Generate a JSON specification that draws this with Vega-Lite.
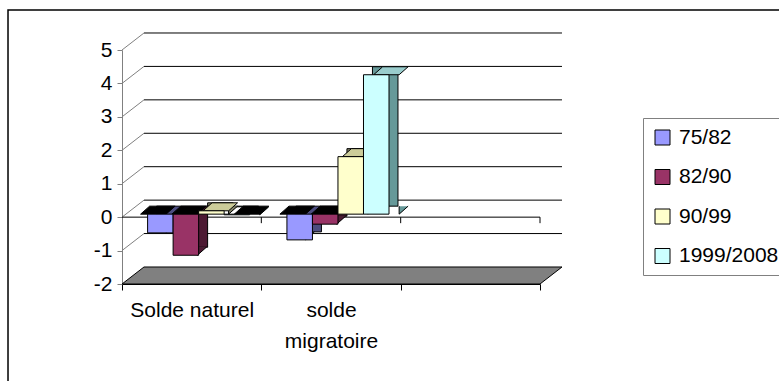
{
  "$schema": "https://vega.github.io/schema/vega-lite/v6.json",
  "width": 418,
  "height": 234,
  "autosize": {"type": "none"},
  "padding": {"left": 122, "top": 50, "right": 239, "bottom": 97},
  "background": "white",
  "config": {
    "view": {"stroke": null},
    "font": "Liberation Sans",
    "axisX": {"domainColor": "black", "tickColor": "black", "tickBand": "extent", "tickSize": 6, "labelFontSize": 21, "labelPadding": 9, "labelAngle": 0, "labelColor": "black", "labelLineHeight": 31, "grid": false, "labelExpr": "datum.value == 'solde migratoire' ? ['solde', 'migratoire'] : datum.label"},
    "axisY": {"domainColor": "#808080", "tickColor": "#808080", "tickSize": 5, "labelPadding": 5, "labelFontSize": 21, "labelColor": "black", "grid": false, "values": [-2, -1, 0, 1, 2, 3, 4, 5], "labelExpr": "'' + datum.value"}
  },
  "datasets": {
    "bars": [
      {"cat": "Solde naturel", "series": "75/82", "value": -0.56},
      {"cat": "Solde naturel", "series": "82/90", "value": -1.23},
      {"cat": "Solde naturel", "series": "90/99", "value": 0.1},
      {"cat": "Solde naturel", "series": "1999/2008", "value": -0.02},
      {"cat": "solde migratoire", "series": "75/82", "value": -0.77},
      {"cat": "solde migratoire", "series": "82/90", "value": -0.3},
      {"cat": "solde migratoire", "series": "90/99", "value": 1.72},
      {"cat": "solde migratoire", "series": "1999/2008", "value": 4.17}
    ],
    "grid": [{"v": -1}, {"v": 0}, {"v": 1}, {"v": 2}, {"v": 3}, {"v": 4}, {"v": 5}],
    "one": [{"k": 1}]
  },
  "resolve": {"scale": {"fill": "independent", "xOffset": "independent"}},
  "layer": [
    {
      "data": {"name": "one"},
      "mark": {"type": "point", "shape": "M -0.2727 0.85 L -0.2727 -0.0957 L 1.6 -0.0957", "size": 698896, "stroke": "black", "strokeWidth": 1.5, "filled": false, "opacity": 1},
      "encoding": {
        "x": {"datum": "Solde naturel", "bandPosition": 0, "type": "nominal", "scale": {"domain": ["Solde naturel", "solde migratoire", " "], "paddingInner": 0, "paddingOuter": 0}, "title": null},
        "y": {"datum": 5, "type": "quantitative", "scale": {"domain": [-2, 5], "nice": false, "zero": false}, "title": null}
      }
    },
    {
      "data": {"name": "grid"},
      "mark": {"type": "point", "shape": "M 0.0526 -0.0407 L 1.0526 -0.0407", "size": 698896, "stroke": "black", "strokeWidth": 1, "filled": false, "opacity": 1},
      "encoding": {
        "x": {"datum": "Solde naturel", "bandPosition": 0, "type": "nominal", "title": null},
        "y": {"field": "v", "type": "quantitative", "title": null}
      }
    },
    {
      "data": {"name": "grid"},
      "mark": {"type": "point", "shape": "M 0 0 L 0.0526 -0.0407", "size": 698896, "stroke": "#808080", "strokeWidth": 1, "filled": false, "opacity": 1},
      "encoding": {
        "x": {"datum": "Solde naturel", "bandPosition": 0, "type": "nominal", "title": null},
        "y": {"field": "v", "type": "quantitative", "title": null}
      }
    },
    {
      "data": {"name": "one"},
      "mark": {"type": "point", "shape": "M 0 0 L 1 0 L 1.0526 -0.0407 L 0.0526 -0.0407 Z", "size": 698896, "stroke": "black", "strokeWidth": 1, "filled": true, "fill": "#808080", "opacity": 1},
      "encoding": {
        "x": {"datum": "Solde naturel", "bandPosition": 0, "type": "nominal", "title": null},
        "y": {"datum": -2, "type": "quantitative", "title": null}
      }
    },
    {
      "data": {"name": "one"},
      "mark": {"type": "point", "shape": "M 0 0 L 1 0 M 0.3333 0 L 0.3333 0.0144 M 0.6667 0 L 0.6667 0.0144 M 1 0 L 1 0.0144", "size": 698896, "stroke": "black", "strokeWidth": 1, "filled": false, "opacity": 1},
      "encoding": {
        "x": {"datum": "Solde naturel", "bandPosition": 0, "type": "nominal", "title": null},
        "y": {"datum": 0, "type": "quantitative", "title": null}
      }
    },
    {
      "data": {"name": "bars"},
      "mark": {"type": "bar", "yOffset": -11, "y2Offset": -11, "stroke": "black", "strokeWidth": 1},
      "encoding": {
        "x": {"field": "cat", "type": "nominal", "title": null},
        "xOffset": {"field": "series", "type": "nominal", "sort": null, "scale": {"domain": ["75/82", "82/90", "90/99", "1999/2008"], "paddingInner": 0, "paddingOuter": 0.73, "align": 0.928}},
        "y": {"field": "value", "type": "quantitative", "title": null},
        "fill": {"field": "series", "type": "nominal", "legend": null, "scale": {"domain": ["75/82", "82/90", "90/99", "1999/2008"], "range": ["#4D4D80", "#4D1A33", "#808066", "#669999"]}}
      }
    },
    {
      "data": {"name": "bars"},
      "transform": [{"filter": "datum.value < 0"}],
      "mark": {"type": "point", "shape": "M 1 -0.627 L 1 0 L 1.706 -0.627", "size": 650, "yOffset": -3, "stroke": "black", "strokeWidth": 1, "filled": true, "opacity": 1},
      "encoding": {
        "x": {"field": "cat", "type": "nominal", "title": null},
        "xOffset": {"field": "series", "type": "nominal", "sort": null, "scale": {"domain": ["75/82", "82/90", "90/99", "1999/2008"], "paddingInner": 0, "paddingOuter": 0.73, "align": 0.687}},
        "y": {"field": "value", "type": "quantitative", "title": null},
        "fill": {"field": "series", "type": "nominal", "legend": null, "scale": {"domain": ["75/82", "82/90", "90/99", "1999/2008"], "range": ["#4D4D80", "#4D1A33", "#808066", "#669999"]}}
      }
    },
    {
      "data": {"name": "bars"},
      "transform": [{"filter": "datum.value >= 0"}],
      "mark": {"type": "point", "shape": "M 1 -0.627 L 1 0 L 1.706 -0.627", "size": 650, "yOffset": -3, "stroke": "black", "strokeWidth": 1, "filled": true, "opacity": 1},
      "encoding": {
        "x": {"field": "cat", "type": "nominal", "title": null},
        "xOffset": {"field": "series", "type": "nominal", "sort": null, "scale": {"domain": ["75/82", "82/90", "90/99", "1999/2008"], "paddingInner": 0, "paddingOuter": 0.73, "align": 0.687}},
        "y": {"datum": 0, "type": "quantitative", "title": null},
        "fill": {"field": "series", "type": "nominal", "legend": null, "scale": {"domain": ["75/82", "82/90", "90/99", "1999/2008"], "range": ["#4D4D80", "#4D1A33", "#808066", "#669999"]}}
      }
    },
    {
      "data": {"name": "bars"},
      "transform": [{"filter": "datum.value >= 0"}],
      "mark": {"type": "point", "shape": "M -1 0 L 1 0 L 1.706 -0.627 L -0.294 -0.627 Z", "size": 650, "yOffset": -3, "stroke": "black", "strokeWidth": 1, "filled": true, "opacity": 1},
      "encoding": {
        "x": {"field": "cat", "type": "nominal", "title": null},
        "xOffset": {"field": "series", "type": "nominal", "sort": null, "scale": {"domain": ["75/82", "82/90", "90/99", "1999/2008"], "paddingInner": 0, "paddingOuter": 0.73, "align": 0.687}},
        "y": {"field": "value", "type": "quantitative", "title": null},
        "fill": {"field": "series", "type": "nominal", "legend": null, "scale": {"domain": ["75/82", "82/90", "90/99", "1999/2008"], "range": ["#4D4D80", "#4D1A33", "#CCCC99", "#99CCCC"]}}
      }
    },
    {
      "data": {"name": "bars"},
      "transform": [{"filter": "datum.value < 0"}],
      "mark": {"type": "point", "shape": "M -1 0 L 1 0 L 1.706 -0.627 L -0.294 -0.627 Z", "size": 650, "yOffset": -3, "stroke": "black", "strokeWidth": 1, "filled": true, "fill": "black", "opacity": 1},
      "encoding": {
        "x": {"field": "cat", "type": "nominal", "title": null},
        "xOffset": {"field": "series", "type": "nominal", "sort": null, "scale": {"domain": ["75/82", "82/90", "90/99", "1999/2008"], "paddingInner": 0, "paddingOuter": 0.73, "align": 0.687}},
        "y": {"datum": 0, "type": "quantitative", "title": null}
      }
    },
    {
      "data": {"name": "bars"},
      "mark": {"type": "bar", "yOffset": -3, "y2Offset": -3, "stroke": "black", "strokeWidth": 1},
      "encoding": {
        "x": {"field": "cat", "type": "nominal", "title": null},
        "xOffset": {"field": "series", "type": "nominal", "sort": null, "scale": {"domain": ["75/82", "82/90", "90/99", "1999/2008"], "paddingInner": 0, "paddingOuter": 0.73, "align": 0.687}},
        "y": {"field": "value", "type": "quantitative", "title": null},
        "fill": {"field": "series", "type": "nominal", "scale": {"domain": ["75/82", "82/90", "90/99", "1999/2008"], "range": ["#9999FF", "#993366", "#FFFFCC", "#CCFFFF"]},
          "legend": {"orient": "none", "legendX": 521, "legendY": 68, "title": null, "padding": 9, "strokeColor": "#808080", "fillColor": "white", "labelFontSize": 21, "labelColor": "black", "symbolSize": 225, "symbolType": "square", "symbolStrokeColor": "black", "symbolStrokeWidth": 1, "rowPadding": 17.5, "labelOffset": 6}}
      }
    }
  ]
}
